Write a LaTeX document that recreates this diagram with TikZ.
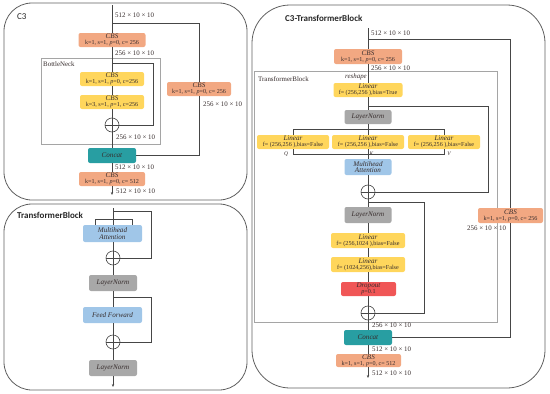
\documentclass[tikz,border=0pt]{standalone}
\usepackage{fontspec}
\setmainfont{Liberation Serif}
\newfontfamily\titlefont{Carlito}
\usetikzlibrary{arrows.meta}
\definecolor{cbsc}{RGB}{242,168,130}
\definecolor{yelc}{RGB}{255,214,92}
\definecolor{tealc}{RGB}{40,158,162}
\definecolor{grayc}{RGB}{168,168,168}
\definecolor{bluec}{RGB}{160,198,232}
\definecolor{redc}{RGB}{240,86,86}
\definecolor{txt}{RGB}{55,45,45}
\definecolor{linec}{RGB}{70,70,70}
\definecolor{panelc}{RGB}{95,95,95}
\definecolor{innerc}{RGB}{165,165,165}
\newcommand\twol[2]{\textit{#1}\\[-1.4pt]{\fontsize{6.1}{6.5}\selectfont #2}}
\begin{document}
\begin{tikzpicture}[x=1pt,y=-1pt,
  bx/.style={rounded corners=2pt, inner sep=0pt, align=center, text=txt, font=\fontsize{7.1}{7.5}\selectfont},
  cbs/.style={bx, fill=cbsc},
  yel/.style={bx, fill=yelc},
  teal/.style={bx, fill=tealc},
  lnorm/.style={bx, fill=grayc},
  blue/.style={bx, fill=bluec},
  red/.style={bx, fill=redc},
  dim/.style={anchor=west, inner sep=0pt, text=txt, font=\fontsize{6.9}{7.5}\selectfont},
  ln/.style={draw=linec, line width=0.6pt},
  arr/.style={ln, -{Stealth[length=3pt,width=2.4pt]}},
  plus/.style={circle, draw=linec, line width=0.6pt, minimum size=14pt, inner sep=0pt,
    path picture={\draw[linec, line width=0.6pt] (path picture bounding box.north) -- (path picture bounding box.south) (path picture bounding box.west) -- (path picture bounding box.east);}},
  panel/.style={draw=panelc, line width=0.8pt},
  inner/.style={draw=innerc, line width=0.7pt},
  ttl/.style={anchor=west, inner sep=0pt, text=black!85, font=\titlefont\fontsize{9}{10}\selectfont},
  sublbl/.style={anchor=west, inner sep=0pt, text=txt, font=\fontsize{6.9}{7.5}\selectfont},
  qkv/.style={inner sep=0pt, text=txt, font=\itshape\fontsize{5.5}{6}\selectfont}
]
\useasboundingbox (0,0) rectangle (550,394);

% ================= C3 panel =================
\draw[panel, rounded corners=28pt] (4,3) rectangle (247,200);
\node[ttl] (c3t) at (17,17) {C3};
\draw[inner] (41,58) rectangle (160,144);
\node[sublbl] (bnl) at (43,64) {BottleNeck};

\node[cbs, minimum width=67, minimum height=14] (cbs1) at (112,40) {\twol{CBS}{k=1, s=1, \textit{p}=0, c= 256}};
\node[yel, minimum width=64, minimum height=14] (y1) at (112,79) {\twol{CBS}{k=1, s=1, \textit{p}=0, c=256}};
\node[yel, minimum width=64, minimum height=14] (y2) at (112,102) {\twol{CBS}{k=3, s=1, \textit{p}=1, c=256}};
\node[plus] (p1) at (112,125) {};
\node[teal, minimum width=48, minimum height=15] (cc1) at (112,155.5) {\textit{Concat}};
\node[cbs, minimum width=64, minimum height=14] (cbsR) at (199,89) {\twol{CBS}{k=1, s=1, \textit{p}=0, c= 256}};
\node[cbs, minimum width=66, minimum height=14] (cbs2) at (112,179) {\twol{CBS}{k=1, s=1, \textit{p}=0, c= 512}};

\coordinate (a0) at (112,5);
\coordinate (a1) at (112,195);
\coordinate (b1) at (112,23);
\coordinate (b2) at (112,63);
\draw[ln] (a0) -- (cbs1.north);
\draw[ln] (cbs1) -- (y1);
\draw[ln] (y1) -- (y2);
\draw[ln] (y2) -- (p1);
\draw[ln] (p1) -- (cc1);
\draw[ln] (cc1) -- (cbs2);
\draw[arr] (cbs2.south) -- (a1);
\draw[ln] (b1) -| (cbsR.north);
\draw[ln] (cbsR.south) |- (cc1.east);
\draw[ln] (b2) -- ++(41,0) |- (p1.east);

\node[dim] (d1) at (115,15) {512 × 10 × 10};
\node[dim] (d2) at (115,53) {256 × 10 × 10};
\node[dim] (d3) at (203,104) {256 × 10 × 10};
\node[dim] (d4) at (116,137) {256 × 10 × 10};
\node[dim] (d5) at (115,167) {512 × 10 × 10};
\node[dim] (d6) at (116,191) {512 × 10 × 10};

% ================= TransformerBlock panel =================
\draw[panel, rounded corners=28pt] (4,204) rectangle (247,390);
\node[ttl, font=\titlefont\bfseries\fontsize{9}{10}\selectfont] (tbt) at (17,215) {TransformerBlock};

\node[blue, minimum width=59, minimum height=17] (mha1) at (112.5,233.5) {\textit{Multihead}\\[-0.6pt]\textit{Attention}};
\node[plus] (q1) at (113,258) {};
\node[lnorm, minimum width=48, minimum height=16] (ln1) at (113,283) {\textit{LayerNorm}};
\node[blue, minimum width=59, minimum height=16] (ff) at (112.5,315) {\textit{Feed Forward}};
\node[plus] (q2) at (113,342) {};
\node[lnorm, minimum width=48, minimum height=16] (ln2) at (113,368) {\textit{LayerNorm}};

\coordinate (t0) at (113,208);
\coordinate (t1) at (113,387);
\coordinate (s1) at (113,211);
\coordinate (s2) at (113,297);
\draw[ln] (t0) -- (mha1.north -| t0);
\draw[ln] ([xshift=-17.5pt]mha1.north) -- ++(0,-6) -| ([xshift=19.5pt]mha1.north);
\draw[ln] (mha1.south -| q1) -- (q1);
\draw[ln] (q1) -- (ln1);
\draw[ln] (ln1) -- (ff.north -| ln1);
\draw[ln] (ff.south -| q2) -- (q2);
\draw[ln] (q2) -- (ln2);
\draw[arr] (ln2.south) -- (t1);
\draw[ln] (s1) -- ++(38,0) |- (q1.east);
\draw[ln] (s2) -- ++(38,0) |- (q2.east);

% ================= C3-TransformerBlock panel =================
\draw[panel, rounded corners=38pt] (252,5) rectangle (545,388);
\node[ttl, font=\titlefont\bfseries\fontsize{9}{10}\selectfont] (ctt) at (285,18) {C3-TransformerBlock};
\draw[inner] (254,71) rectangle (497,322);
\node[sublbl] (tbl) at (258,79) {TransformerBlock};
\node[anchor=east, inner sep=0pt, text=txt, font=\itshape\fontsize{6.9}{7.5}\selectfont] (rsh) at (367,77) {reshape};

\node[cbs, minimum width=68, minimum height=15] (cbsT) at (368,56.5) {\twol{CBS}{k=1, s=1, \textit{p}=0, c= 256}};
\node[yel, minimum width=69, minimum height=14] (linT) at (368,90) {\twol{Linear}{f= (256,256 ),bias=True}};
\node[lnorm, minimum width=47, minimum height=14] (lnA) at (368,117) {\textit{LayerNorm}};
\node[yel, minimum width=72, minimum height=14] (linQ) at (293,142) {\twol{Linear}{f= (256,256 ),bias=False}};
\node[yel, minimum width=72, minimum height=14] (linK) at (368,142) {\twol{Linear}{f= (256,256 ),bias=False}};
\node[yel, minimum width=72, minimum height=14] (linV) at (444,142) {\twol{Linear}{f= (256,256 ),bias=False}};
\node[blue, minimum width=47, minimum height=16] (mha2) at (368,167) {\textit{Multihead}\\[-0.8pt]\textit{Attention}};
\node[plus] (r1) at (368,192) {};
\node[lnorm, minimum width=47, minimum height=16] (lnB) at (368,215) {\textit{LayerNorm}};
\node[yel, minimum width=74, minimum height=15] (lin1) at (368,240.5) {\twol{Linear}{f= (256,1024 ),bias=False}};
\node[yel, minimum width=74, minimum height=15] (lin2) at (368,264.5) {\twol{Linear}{f= (1024,256),bias=False}};
\node[red, minimum width=55, minimum height=14] (drop) at (368.5,289) {\twol{Dropout}{\textit{p}=0.1}};
\node[plus] (r2) at (368,313) {};
\node[teal, minimum width=48, minimum height=15] (cc2) at (368,337.5) {\textit{Concat}};
\node[cbs, minimum width=65, minimum height=13] (cbsB) at (368.5,360.5) {\twol{CBS}{k=1, s=1, \textit{p}=0, c= 512}};
\node[cbs, minimum width=65, minimum height=15] (cbsR2) at (510.5,215.5) {\twol{CBS}{k=1, s=1, \textit{p}=0, c= 256}};

\node[qkv] (lq) at (286,154) {Q};
\node[qkv] (lk) at (371.5,154) {K};
\node[qkv] (lv) at (449,154) {V};

\coordinate (m0) at (368,28);
\coordinate (m1) at (368,378);
\coordinate (m2) at (368,39);
\coordinate (m3) at (368,106);
\coordinate (m4) at (368,202);
\draw[ln] (m0) -- (cbsT.north);
\draw[ln] (cbsT) -- (linT);
\draw[ln] (linT) -- (lnA);
\draw[ln] (lnA) -- (linK);
\draw[ln] (linQ.north) -- ++(0,-6) -| (linV.north);
\draw[ln] (linQ.south) -- ++(0,5) -| (linV.south);
\draw[ln] (linK) -- (mha2);
\draw[ln] (mha2) -- (r1);
\draw[ln] (r1) -- (lnB);
\draw[ln] (lnB) -- (lin1);
\draw[ln] (lin1) -- (lin2);
\draw[ln] (lin2) -- (drop.north -| lin2);
\draw[ln] (drop.south -| r2) -- (r2);
\draw[ln] (r2) -- (cc2);
\draw[ln] (cc2) -- (cbsB.north -| cc2);
\draw[arr] (cbsB.south -| cc2) -- (m1);
\draw[ln] (m2) -| (cbsR2.north);
\draw[ln] (cbsR2.south) |- (cc2.east);
\draw[ln] (m3) -- ++(120,0) |- (r1.east);
\draw[ln] (m4) -- ++(56,0) |- (r2.east);

\node[dim] (e1) at (371,33) {512 × 10 × 10};
\node[dim] (e2) at (371,68) {256 × 10 × 10};
\node[dim] (e3) at (467,228) {256 × 10 × 10};
\node[dim] (e4) at (372,325) {256 × 10 × 10};
\node[dim] (e5) at (372,349) {512 × 10 × 10};
\node[dim] (e6) at (372,373) {512 × 10 × 10};
\end{tikzpicture}
\end{document}
